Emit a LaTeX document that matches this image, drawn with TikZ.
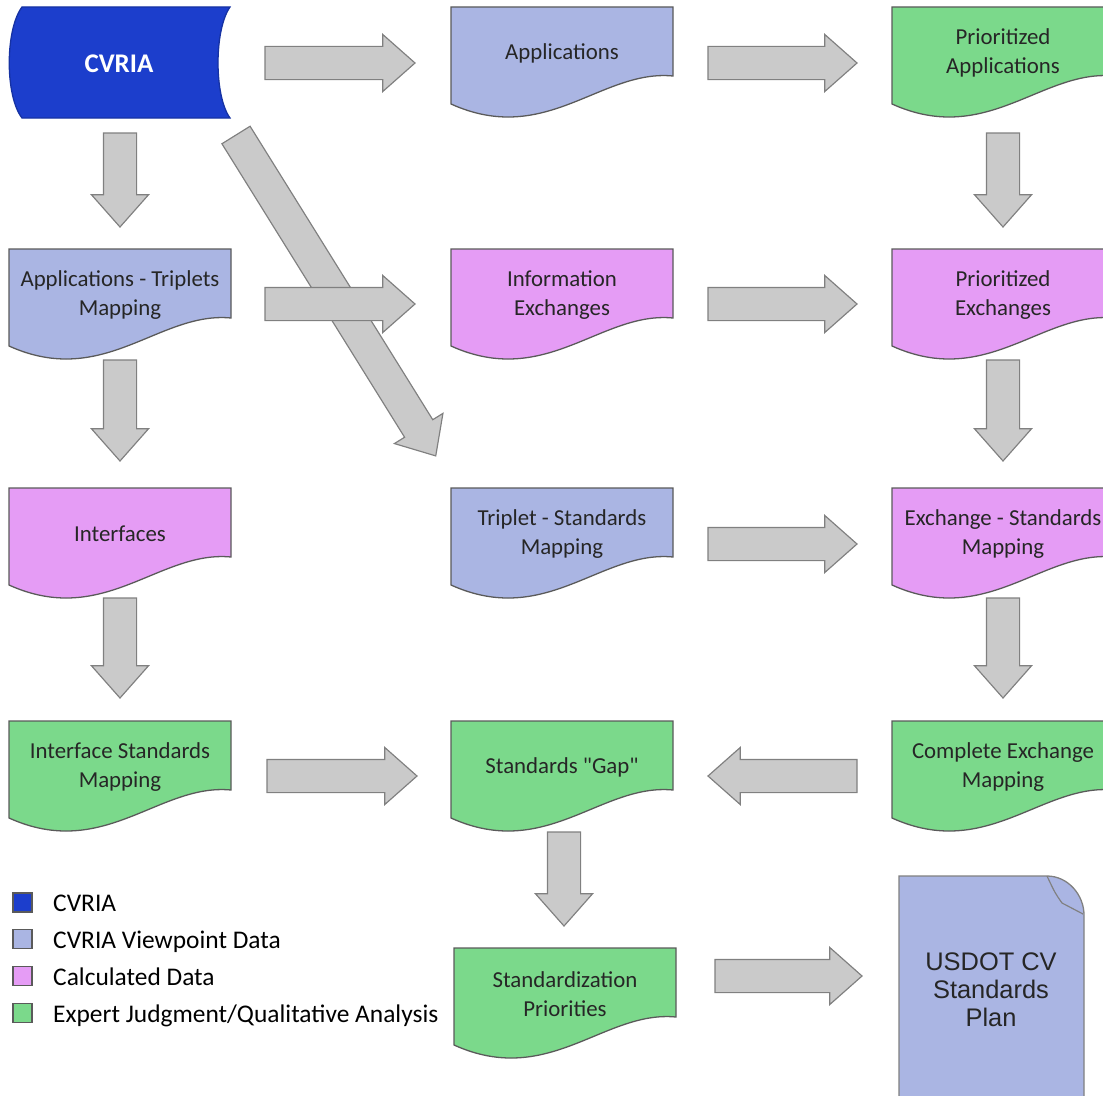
\documentclass[tikz,border=0pt]{standalone}
\usepackage{fontspec}
\setmainfont{Carlito}
\newfontfamily\carlnq{Carlito}
\newfontfamily\arialf{Liberation Sans}
\usetikzlibrary{shapes.arrows}
\definecolor{cvblue}{HTML}{1C3ECC}
\definecolor{lav}{HTML}{AAB5E3}
\definecolor{mypink}{HTML}{E59CF5}
\definecolor{grn}{HTML}{7BD98B}
\definecolor{arrfill}{HTML}{CACACA}
\definecolor{arrline}{HTML}{808080}
\definecolor{boxline}{HTML}{5A5A5A}
\definecolor{txt}{HTML}{262626}
\tikzset{
  docline/.style={draw=boxline, line width=1.1pt},
  doctext/.style={font=\fontsize{19.5pt}{24.75pt}\selectfont, text=txt, align=center, inner sep=0pt},
  barrow/.style={single arrow, draw=arrline, fill=arrfill, line width=1pt,
    inner xsep=0pt, inner ysep=16*0.03cm, outer sep=0pt,
    single arrow head extend=12*0.03cm, single arrow tip angle=83,
    minimum height=#1*0.03cm, anchor=tail},
  legsq/.style={draw=boxline, line width=1pt, minimum size=19*0.03cm, inner sep=0pt},
  legtext/.style={font=\fontsize{21.7pt}{26pt}\selectfont, text=black, anchor=base west, inner sep=0pt},
}
\newcommand\docshape[5]{%
  \draw[docline, fill=#4] (#2,#3) -- (#2+222,#3) -- (#2+222,#3+69)
    .. controls (#2+150,#3+62) and (#2+95,#3+140) .. (#2,#3+97) -- cycle;
  \node[doctext] (#1) at (#2+111,#3+46) {#5};
}
\begin{document}
\begin{tikzpicture}[x=0.03cm, y=-0.03cm]
\useasboundingbox (0,0) rectangle (1103,1095);
\clip (0,0) rectangle (1103,1095);

% CVRIA source shape
\draw[draw=cvblue!80!black, line width=1.1pt, fill=cvblue]
  (22,7) -- (230,7) .. controls (214,30) and (214,96) .. (230,118)
  -- (22,118) .. controls (5,96) and (5,30) .. (22,7) -- cycle;
\node[font=\bfseries\fontsize{23pt}{27pt}\selectfont, text=white] (cvria) at (119,64) {CVRIA};

% document boxes
\docshape{apps}{451}{7}{lav}{Applications}
\docshape{papps}{892}{7}{grn}{Prioritized\\Applications}
\docshape{atm}{9}{249}{lav}{Applications - Triplets\\Mapping}
\docshape{infoex}{451}{249}{mypink}{Information\\Exchanges}
\docshape{pex}{892}{249}{mypink}{Prioritized\\Exchanges}
\docshape{intf}{9}{488}{mypink}{Interfaces}
\docshape{tsm}{451}{488}{lav}{Triplet - Standards\\Mapping}
\docshape{esm}{892}{488}{mypink}{Exchange - Standards\\Mapping}
\docshape{ism}{9}{721}{grn}{Interface Standards\\Mapping}
\docshape{gap}{451}{721}{grn}{{\carlnq Standards "Gap"}}
\docshape{cem}{892}{721}{grn}{Complete Exchange\\Mapping}
\docshape{sp}{454}{948}{grn}{Standardization\\Priorities}

% USDOT plan document with folded corner
\draw[draw=arrline, line width=1.1pt, fill=lav]
  (899,876) -- (1047,876) .. controls (1068,876) and (1084,895) .. (1084,915)
  -- (1084,1110) -- (899,1110) -- cycle;
\draw[draw=arrline, line width=1pt] (1047,876) .. controls (1055,893) .. (1062,903) -- (1083,914);
\node[align=center, font=\arialf\fontsize{21.7pt}{23.9pt}\selectfont, text=txt] (usdot) at (991,990) {USDOT CV\\Standards\\Plan};

% block arrows
\node[barrow=378, rotate=-58.1] (diag) at (236,135) {};
\node[barrow=150] (a1) at (265,63) {};
\node[barrow=149] (a2) at (708,63) {};
\node[barrow=150] (a3) at (265,304) {};
\node[barrow=149] (a4) at (708,304) {};
\node[barrow=149] (a5) at (708,544) {};
\node[barrow=150] (a6) at (267,776) {};
\node[barrow=149, rotate=180] (a7) at (857,776) {};
\node[barrow=147] (a8) at (715,976) {};
\node[barrow=94, rotate=-90] (v1) at (120,133) {};
\node[barrow=94, rotate=-90] (v2) at (1003,133) {};
\node[barrow=101, rotate=-90] (v3) at (120,360) {};
\node[barrow=101, rotate=-90] (v4) at (1003,360) {};
\node[barrow=100, rotate=-90] (v5) at (120,598) {};
\node[barrow=100, rotate=-90] (v6) at (1003,598) {};
\node[barrow=94, rotate=-90] (v7) at (564,832) {};

% legend
\node[legsq, fill=cvblue] (l1) at (22.5,902.5) {};
\node[legsq, fill=lav] (l2) at (22.5,939) {};
\node[legsq, fill=mypink] (l3) at (22.5,976) {};
\node[legsq, fill=grn] (l4) at (22.5,1013) {};
\node[legtext] (t1) at (53,911) {CVRIA};
\node[legtext] (t2) at (53,948) {CVRIA Viewpoint Data};
\node[legtext] (t3) at (53,985) {Calculated Data};
\node[legtext] (t4) at (53,1022) {Expert Judgment/Qualitative Analysis};
\end{tikzpicture}
\end{document}
